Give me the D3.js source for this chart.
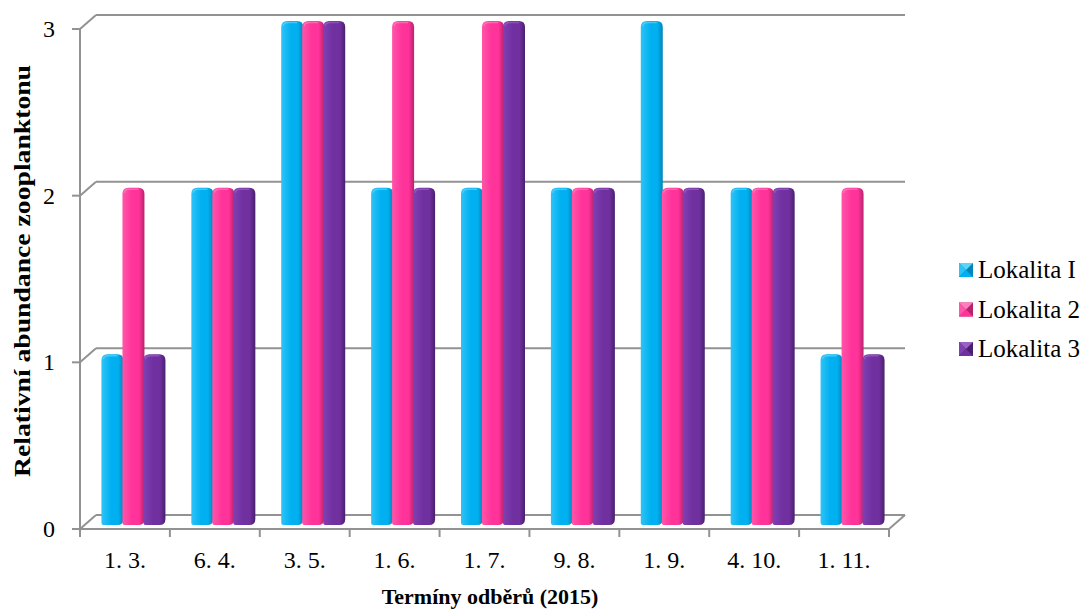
<!DOCTYPE html>
<html><head><meta charset="utf-8">
<script src="https://cdn.jsdelivr.net/npm/d3@7"></script>
<style>html,body{margin:0;padding:0;background:#fff;}svg{display:block;}</style>
</head><body>
<svg id="chart" width="1089" height="611"></svg>
<script>
const categories = ["1. 3.","6. 4.","3. 5.","1. 6.","1. 7.","9. 8.","1. 9.","4. 10.","1. 11."];
const seriesNames = ["Lokalita I","Lokalita 2","Lokalita 3"];
const lokalita1 = [1,2,3,2,2,2,3,2,1];
const lokalita2 = [2,2,3,3,3,2,2,2,2];
const lokalita3 = [1,2,3,2,3,2,2,2,1];
const yTicks = [0,1,2,3];
const seriesValues = [lokalita1, lokalita2, lokalita3];
const colors = [
  {base:"#00B0F0", light:"#2ec3f7", dark:"#0086b8", top:"#5fd3fa"},
  {base:"#FF3399", light:"#ff55aa", dark:"#b8236d", top:"#ff7fbd"},
  {base:"#7030A0", light:"#8040b2", dark:"#4a1f6d", top:"#9a62c4"}
];

(function(){
const svg = d3.select("#chart");
const font = "'Liberation Serif','Times New Roman',serif";
const pLeft = 80, pRight = 889, pBottom = 529, pTop = 29;
const dX = 16, dY = -14;        // depth of back wall
const mX = 8, mY = -7;          // bars at mid depth

const x = d3.scaleBand().domain(categories).range([pLeft, pRight]);
const y = d3.scaleLinear().domain([0,3]).range([pBottom, pTop]);
const groupW = 63;
const x1 = d3.scaleBand().domain(seriesNames).range([0, groupW]);

const gridColor = "#929292";
const grid = svg.append("g").attr("stroke", gridColor).attr("stroke-width", 2).attr("fill","none");

yTicks.forEach(t => {
  const yy = y(t);
  grid.append("line").attr("x1", pLeft+dX).attr("x2", pRight+dX).attr("y1", yy+dY).attr("y2", yy+dY);
  grid.append("line").attr("x1", pLeft).attr("x2", pLeft+dX).attr("y1", yy).attr("y2", yy+dY);
  grid.append("line").attr("x1", pLeft-8).attr("x2", pLeft).attr("y1", yy).attr("y2", yy);
});
grid.append("line").attr("x1", pLeft).attr("x2", pRight).attr("y1", pBottom).attr("y2", pBottom);
grid.append("line").attr("x1", pRight).attr("x2", pRight+dX).attr("y1", pBottom).attr("y2", pBottom+dY);
grid.append("line").attr("x1", pLeft).attr("x2", pLeft).attr("y1", pTop).attr("y2", pBottom+8);
categories.forEach((c,i) => {
  grid.append("line").attr("x1", x(c)+x.bandwidth()).attr("x2", x(c)+x.bandwidth())
    .attr("y1", pBottom).attr("y2", pBottom+8);
});

const defs = svg.append("defs");
colors.forEach((c,i) => {
  const g = defs.append("linearGradient").attr("id","bg"+i).attr("x1","0").attr("x2","1").attr("y1","0").attr("y2","0");
  g.append("stop").attr("offset","0").attr("stop-color",c.light);
  g.append("stop").attr("offset","0.45").attr("stop-color",c.base);
  g.append("stop").attr("offset","0.75").attr("stop-color",c.base);
  g.append("stop").attr("offset","1").attr("stop-color",c.dark);
});

function barPath(x0, w, yTop, yBot, r) {
  return `M${x0},${yBot-2} L${x0},${yTop+r} Q${x0},${yTop} ${x0+r},${yTop} L${x0+w-r},${yTop} Q${x0+w},${yTop} ${x0+w},${yTop+r} L${x0+w},${yBot-r} Q${x0+w},${yBot} ${x0+w-r},${yBot} L${x0+2},${yBot} Q${x0},${yBot} ${x0},${yBot-2} Z`;
}

const bars = svg.append("g");
categories.forEach((c, ci) => {
  seriesNames.forEach((s, si) => {
    const v = seriesValues[si][ci];
    const bx = x(c) + mX + (x.bandwidth()-groupW)/2 + x1(s);
    const yTop = y(v) + mY - 1, yBot = y(0) + mY + 3;
    bars.append("path").attr("d", barPath(bx, x1.bandwidth()+1, yTop, yBot, 6))
      .attr("fill", `url(#bg${si})`);
    bars.append("path").attr("d", `M${bx+2},${yTop+5} Q${bx+2},${yTop+1.5} ${bx+7},${yTop+1.5} L${bx+x1.bandwidth()-5},${yTop+1.5}`)
      .attr("stroke", colors[si].top).attr("stroke-width",1.5).attr("fill","none").attr("opacity",0.7);
  });
});

svg.append("g").selectAll("text").data(yTicks).join("text")
  .attr("x", 55).attr("y", d => y(d)+8)
  .attr("text-anchor","end")
  .attr("font-family", font).attr("font-size", 24).attr("fill","#000").text(d => d);

svg.append("g").selectAll("text").data(categories).join("text")
  .attr("x", d => x(d)+x.bandwidth()/2).attr("y", 568).attr("text-anchor","middle")
  .attr("font-family", font).attr("font-size", 24).attr("fill","#000").text(d => d);

svg.append("text").attr("x", 490).attr("y", 604).attr("text-anchor","middle")
  .attr("font-family", font).attr("font-size", 22).attr("font-weight","bold").text("Termíny odběrů (2015)");
svg.append("text").attr("transform","translate(30,271) rotate(-90)").attr("text-anchor","middle")
  .attr("font-family", font).attr("font-size", 24).attr("font-weight","bold")
  .attr("textLength", 412).attr("lengthAdjust","spacingAndGlyphs")
  .text("Relativní abundance zooplanktonu");

const legend = svg.append("g");
seriesNames.forEach((s, i) => {
  const ly = 270 + i*39.5;
  const g = legend.append("g");
  g.append("rect").attr("x",959).attr("y",ly-7).attr("width",14).attr("height",14).attr("fill",colors[i].dark);
  g.append("path").attr("d",`M959,${ly-7} L973,${ly-7} L966,${ly} Z`).attr("fill",colors[i].top);
  g.append("path").attr("d",`M959,${ly-7} L966,${ly} L959,${ly+7} Z`).attr("fill",colors[i].light);
  g.append("path").attr("d",`M959,${ly+7} L966,${ly} L973,${ly+7} Z`).attr("fill",colors[i].base);
  g.append("text").attr("x",978).attr("y",ly+8)
    .attr("font-family", font).attr("font-size", 25).attr("fill","#000").text(s);
});
})();
</script>
</body></html>
